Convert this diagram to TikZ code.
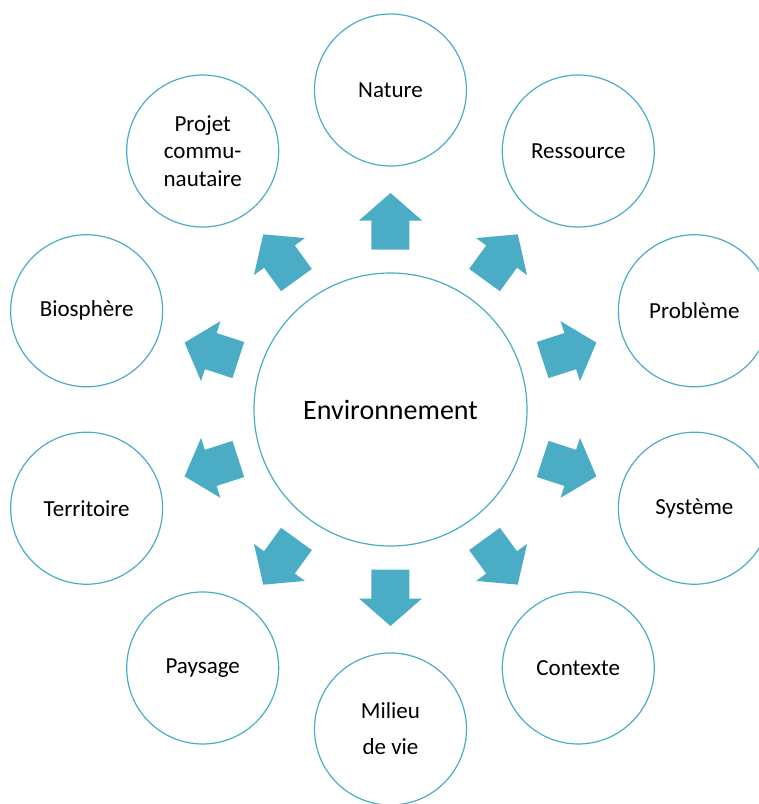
\documentclass[tikz,border=0pt]{standalone}
\usepackage{fontspec}
\setmainfont{Carlito}
\definecolor{smartblue}{HTML}{4BACC6}

\begin{document}
\begin{tikzpicture}[x=1pt,y=1pt,
    hub/.style={circle, draw=smartblue, line width=0.6pt, minimum size=136.5pt,
      inner sep=0pt, font=\fontsize{14}{17}\selectfont},
    topic/.style={circle, draw=smartblue, line width=0.6pt, minimum size=76pt,
      inner sep=0pt, align=center, font=\fontsize{11.5}{13.75}\selectfont},
    blockarrow/.style={fill=smartblue}]
  \useasboundingbox (-195.25,-197.25) rectangle (184.25,204.75);

  \node[hub] (env) at (0,0) {Environnement};

  \node[topic] (nature)     at (90:159.75)   {Nature};
  \node[topic] (ressource)  at (54:159.75)   {Ressource};
  \node[topic] (probleme)   at (18:159.75)   {Problème};
  \node[topic] (systeme)    at (-18:159.75)  {Système};
  \node[topic] (contexte)   at (-54:159.75)  {Contexte};
  \node[topic] (milieu)     at (-90:159.75)  {Milieu\\[4.25pt]de vie};
  \node[topic] (paysage)    at (-126:159.75) {Paysage};
  \node[topic] (territoire) at (-162:159.75) {Territoire};
  \node[topic] (biosphere)  at (162:159.75)  {Biosphère};
  \node[topic] (projet)     at (126:159.75)  {Projet\\commu-\\nautaire};

  % block arrows
  \foreach \a in {90,54,18,-18,-54,-90,-126,-162,162,126}
    \fill[blockarrow, rotate=\a]
      (80,-9.5) -- (94.5,-9.5) -- (94.5,-15.75) -- (108.25,0)
      -- (94.5,15.75) -- (94.5,9.5) -- (80,9.5) -- cycle;
\end{tikzpicture}
\end{document}
